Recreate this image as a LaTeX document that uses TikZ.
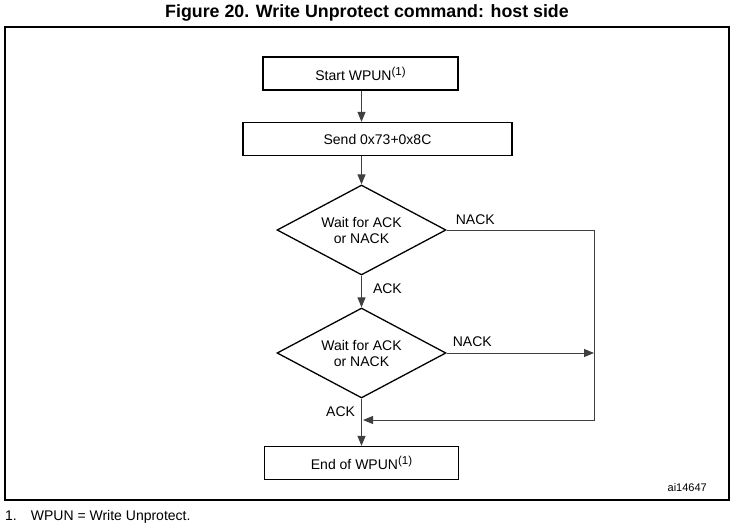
\documentclass[tikz,border=0pt]{standalone}
\usepackage{fontspec}
\setmainfont{Liberation Sans}
\usetikzlibrary{arrows.meta}
\usetikzlibrary{positioning}
\usetikzlibrary{shapes.geometric}
\definecolor{mline}{rgb}{0.25, 0.25, 0.25}

\newcommand{\fnmark}{\raisebox{5pt}{\fontsize{11.5}{13}\selectfont(1)}}

\tikzset{
  stepbox/.style={draw, line width=1.3pt, fill=white, minimum width=#1, minimum height=33pt, inner sep=0pt},
  waitbox/.style={draw, line width=1.3pt, diamond, aspect=1.88, inner sep=0pt, minimum width=169pt, minimum height=90pt, align=center},
  flow/.style={draw=mline, line width=1pt, -{Triangle[length=10pt, width=8pt]}},
  lbl/.style={inner sep=0pt, font=\fontsize{14}{16}\selectfont}
}

\begin{document}
\begin{tikzpicture}[x=1pt, y=-1pt, font=\fontsize{14}{16}\selectfont]
      \useasboundingbox (0, 0) rectangle (735, 527);
      \fill [white] (0, 0) rectangle (735, 527);

      \node (title) at (367, 13) {\fontsize{17.8}{20}\selectfont\bfseries Figure 20. Write Unprotect command: host side};
      \draw [line width=1.3pt] (5, 27) rectangle (729, 500);

      \node [stepbox=195pt] (start) at (360.5, 73.5) {Start WPUN\fnmark};
      \node [stepbox=269pt] (send) at (377.5, 139) {Send 0x73+0x8C};
      \node [waitbox] (wait1) at (361.5, 230) {Wait for ACK\\or NACK};
      \node [waitbox] (wait2) at (361.5, 353) {Wait for ACK\\or NACK};
      \node [stepbox=194pt] (endwp) at (361.5, 463) {End of WPUN\fnmark};

      \coordinate (rtop) at (594, 230);
      \coordinate (rmid) at (594, 353);
      \coordinate (rbot) at (594, 420);
      \coordinate (merge) at (363, 420);

      \draw [flow] (start.south -| wait1.north) -- (send.north -| wait1.north);
      \draw [flow] (send.south -| wait1.north) -- (wait1.north);
      \draw [flow] (wait1.south) -- node [lbl, pos=0.42, right=11pt] {ACK} (wait2.north);
      \draw [flow] (wait2.south) -- node [lbl, pos=0.27, left=6pt] {ACK} (endwp.north);
      \draw [flow] (wait2.east) -- (rmid);
      \draw [flow] (wait1.east) -- (rtop) -- (rbot) -- (merge);

      \node [lbl, above right=5pt and 9pt of wait1.east] (nack1) {NACK};
      \node [lbl, above right=6pt and 6pt of wait2.east] (nack2) {NACK};

      \node [anchor=east, inner sep=0pt] (figid) at (707, 488) {\fontsize{11}{13}\selectfont ai14647};
      \node [anchor=west, inner sep=0pt] (note) at (5, 517) {1.\hspace{14pt}WPUN = Write Unprotect.};
    \end{tikzpicture}
\end{document}
